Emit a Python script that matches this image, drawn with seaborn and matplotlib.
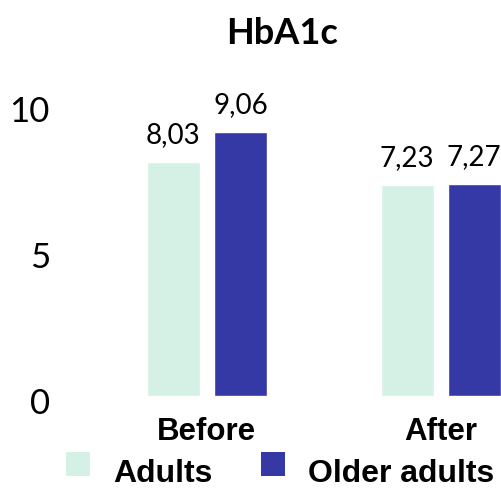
import matplotlib
matplotlib.use("Agg")
import matplotlib.pyplot as plt
from matplotlib.patches import Patch, Rectangle
from matplotlib.legend_handler import HandlerPatch
from matplotlib.transforms import ScaledTranslation
import seaborn as sns
import pandas as pd

# Data
periods = ["Before", "After"]
groups = ["Adults", "Older adults"]
adults = [8.03, 7.23]
older_adults = [9.06, 7.27]
yticks = [0, 5, 10]
colors = ["#d5f0e4", "#3439a6"]

df = pd.DataFrame({
    "period": periods * 2,
    "group": [groups[0]] * 2 + [groups[1]] * 2,
    "value": adults + older_adults,
})

sns.set_theme(style="white")
plt.rcParams["font.family"] = ["Lato", "DejaVu Sans"]
plt.rcParams["text.color"] = "black"
plt.rcParams["xtick.color"] = "black"
plt.rcParams["ytick.color"] = "black"

fig = plt.figure(figsize=(5.02, 4.93), dpi=100)
ax = fig.add_axes([0.199, 0.1974, 0.801, 0.6207])

sns.barplot(data=df, x="period", y="value", hue="group", order=periods,
            hue_order=groups, palette=colors, width=0.574, gap=0.21,
            saturation=1, ax=ax, legend=False)

ax.set_xlim(-0.458, 1.263)
ax.set_ylim(0, 10.5)
ax.set_yticks(yticks)
ax.set_yticklabels([str(t) for t in yticks], fontsize=25)
ax.tick_params(axis="y", length=0, pad=36)
ax.tick_params(axis="x", length=0, pad=15)
down = ScaledTranslation(0, -0.05, fig.dpi_scale_trans)
for lbl in ax.get_yticklabels():
    lbl.set_transform(lbl.get_transform() + down)
for lbl in ax.get_xticklabels():
    lbl.set_fontfamily(["Liberation Sans", "DejaVu Sans"])
    lbl.set_fontweight("bold")
    lbl.set_fontsize(22.5)
ax.set_xlabel("")
ax.set_ylabel("")
sns.despine(ax=ax, left=True, bottom=True)
ax.grid(False)

# Value labels above each bar
for cont in ax.containers:
    ax.bar_label(cont, labels=[f"{v:.2f}".replace(".", ",") for v in cont.datavalues],
                 fontsize=20, padding=10)

fig.text(0.561, 0.932, "HbA1c", ha="center", va="center",
         fontsize=26, fontweight="bold")


# Square legend keys sitting a little above the text baseline
def square_key(legend, orig_handle, xdescent, ydescent, width, height, fontsize):
    side = 17.3
    return Rectangle((-xdescent, 4.5), side, side)


handles = [Patch(facecolor=c, edgecolor="none") for c in colors]
fs = 23
leg = fig.legend(handles, groups, loc="lower left", bbox_to_anchor=(0.1315, 0.008),
                 ncol=2, frameon=False, borderpad=0, borderaxespad=0,
                 handlelength=17.3 / fs, handleheight=0.86,
                 handletextpad=16.6 / fs, columnspacing=35 / fs,
                 handler_map={Patch: HandlerPatch(patch_func=square_key)},
                 prop={"family": ["Liberation Sans", "DejaVu Sans"],
                       "weight": "bold", "size": fs})

fig.savefig("out.png", dpi=100)
